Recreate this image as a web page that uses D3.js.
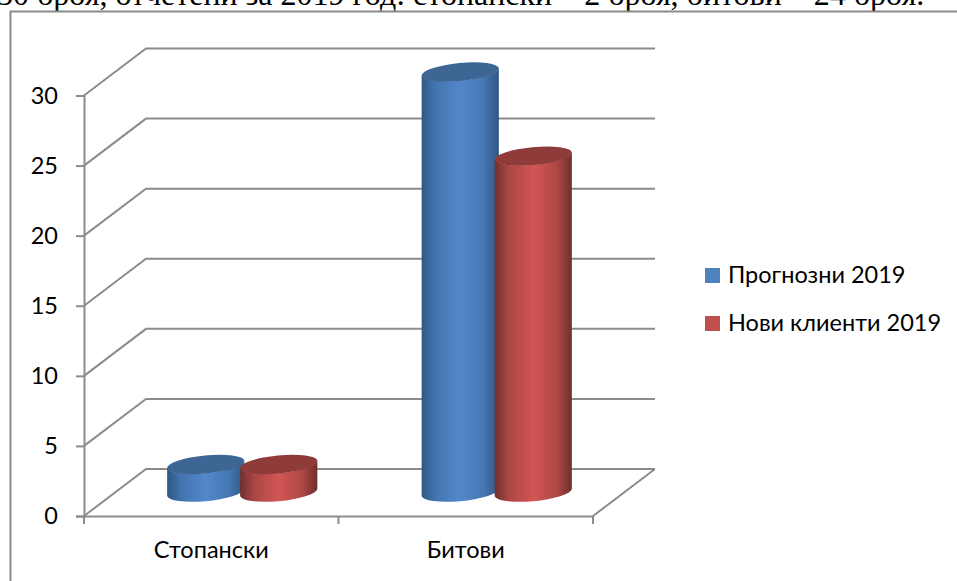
<!DOCTYPE html>
<html>
  <head>
    <meta http-equiv="Content-Type" content="text/html; charset=UTF-8" />
    <title>Прогнозни и нови клиенти 2019</title>
    <script src="https://cdn.jsdelivr.net/npm/d3@7/dist/d3.min.js"></script>
    <style>
      html, body { margin: 0; padding: 0; background: #ffffff; overflow: hidden; }
      svg { display: block; }
      text { font-family: Lato, "Noto Sans", sans-serif; fill: #000000; }
    </style>
  </head>
  <body>
    <svg width="957" height="581" id="mainsvg"></svg>
    <script>
        // data
        const categories = ['Стопански', 'Битови'];
        const prognosis = [2, 30];
        const newClients = [2, 24];
        const seriesNames = ['Прогнозни 2019', 'Нови клиенти 2019'];
        const yTicks = [0, 5, 10, 15, 20, 25, 30];
        const headerLine = '30 броя, отчетени за 2019 год: стопански – 2 броя, битови – 24 броя.';

        // series colours: legend, side edge, side centre, top cap
        const seriesStyle = [
            {legend: '#4f81bd', edge: '#2f5784', mid: '#5288cb', cap: '#3d6695'},
            {legend: '#c0504d', edge: '#6f2f2d', mid: '#d15654', cap: '#8f3b39'}
        ];

        const svg = d3.select('#mainsvg');
        const gridColor = '#8c8c8c';
        const labelSize = 23.5;

        // front plane of the 3d box and the shift to the back wall
        const front = {left: 84, right: 593, bottom: 516, top: 95.5};
        const depth = {x: 62, y: -47};

        const yScale = d3.scaleLinear().domain([0, 30]).range([front.bottom, front.top]);
        const xScale = d3.scaleBand().domain(categories).range([front.left, front.right]);
        const seriesScale = d3.scaleBand().domain([0, 1]).range([-73, 73]);

        // header text cut by the top of the image, and the chart frame
        svg.append('text')
            .attr('x', -3).attr('y', 5)
            .style('font-family', '"Liberation Serif", serif')
            .attr('font-size', 32)
            .text(headerLine);

        svg.append('path')
            .attr('d', 'M10.5,581V11.5H957')
            .attr('fill', 'none')
            .attr('stroke', '#8a8a8a')
            .attr('stroke-width', 2);

        // back wall gridlines and side wall diagonals
        const walls = svg.append('g').attr('fill', 'none').attr('stroke', gridColor).attr('stroke-width', 2);
        walls.selectAll('.grid').data(yTicks).enter().append('path')
            .attr('class', 'grid')
            .attr('d', d => `M${front.left},${yScale(d)}L${front.left + depth.x},${yScale(d) + depth.y}H${front.right + depth.x}`);
        // floor: right hand edge
        walls.append('path')
            .attr('d', `M${front.right},${front.bottom}L${front.right + depth.x},${front.bottom + depth.y}`);

        // axes on the front plane
        const yAxis = d3.axisLeft(yScale).tickValues(yTicks).tickSize(8).tickPadding(18);
        const yAxisGroup = svg.append('g').attr('transform', `translate(${front.left}, 0)`).call(yAxis);
        const xAxis = d3.axisBottom(xScale).tickSize(0).tickPadding(25);
        const xAxisGroup = svg.append('g').attr('transform', `translate(0, ${front.bottom})`).call(xAxis);
        [yAxisGroup, xAxisGroup].forEach(g => {
            g.selectAll('.domain').attr('stroke', gridColor).attr('stroke-width', 2);
            g.selectAll('line').attr('stroke', gridColor).attr('stroke-width', 2);
            g.selectAll('text').attr('font-size', labelSize).style('font-family', 'Lato, "Noto Sans", sans-serif').attr('fill', '#000');
        });
        // category separators under the floor
        svg.append('g').selectAll('line')
            .data([front.left, front.left + xScale.bandwidth(), front.right]).enter().append('line')
            .attr('x1', d => d).attr('x2', d => d)
            .attr('y1', front.bottom).attr('y2', front.bottom + 8)
            .attr('stroke', gridColor).attr('stroke-width', 2);

        // gradients for the cylinder sides
        const defs = svg.append('defs');
        seriesStyle.forEach((s, i) => {
            const grad = defs.append('linearGradient').attr('id', 'side' + i);
            grad.append('stop').attr('offset', '0%').attr('stop-color', s.edge);
            grad.append('stop').attr('offset', '18%').attr('stop-color', d3.interpolateRgb(s.edge, s.mid)(0.6));
            grad.append('stop').attr('offset', '50%').attr('stop-color', s.mid);
            grad.append('stop').attr('offset', '80%').attr('stop-color', d3.interpolateRgb(s.edge, s.mid)(0.65));
            grad.append('stop').attr('offset', '100%').attr('stop-color', s.edge);
        });

        // tilted ellipse used for the top and bottom of each cylinder
        const rx = 38.8, ry = 9, tilt = -5.5;
        const halfW = 38.6, edgeDrop = 3.5;

        const bars = [];
        categories.forEach((c, ci) => {
            [prognosis, newClients].forEach((values, si) => {
                bars.push({cat: c, series: si, value: values[ci]});
            });
        });

        const barCentre = d => xScale(d.cat) + xScale.bandwidth() / 2 + depth.x / 2 + seriesScale(d.series) + seriesScale.bandwidth() / 2;
        const baseY = front.bottom + depth.y / 2;
        const topY = d => yScale(d.value) + depth.y / 2;

        const cyl = svg.append('g').selectAll('.cyl').data(bars).enter().append('g').attr('class', 'cyl');
        cyl.append('path')
            .attr('fill', d => `url(#side${d.series})`)
            .attr('d', d => {
                const cx = barCentre(d), ty = topY(d);
                return `M${cx - halfW},${ty + edgeDrop}V${baseY + edgeDrop}` +
                    `A${rx},${ry} ${tilt} 0 0 ${cx + halfW},${baseY - edgeDrop}` +
                    `V${ty - edgeDrop}A${rx},${ry} ${tilt} 0 1 ${cx - halfW},${ty + edgeDrop}Z`;
            });
        cyl.append('ellipse')
            .attr('rx', rx).attr('ry', ry)
            .attr('fill', d => seriesStyle[d.series].cap)
            .attr('transform', d => `translate(${barCentre(d)},${topY(d)}) rotate(${tilt})`);

        // legend
        const legend = svg.append('g').selectAll('.legend').data(seriesNames).enter().append('g')
            .attr('class', 'legend')
            .attr('transform', (d, i) => `translate(705, ${268 + i * 48})`);
        legend.append('rect')
            .attr('width', 15).attr('height', 15)
            .attr('fill', (d, i) => seriesStyle[i].legend);
        legend.append('text')
            .attr('x', 23).attr('y', 15)
            .attr('font-size', labelSize)
            .text(d => d);
    </script>
  </body>
</html>
